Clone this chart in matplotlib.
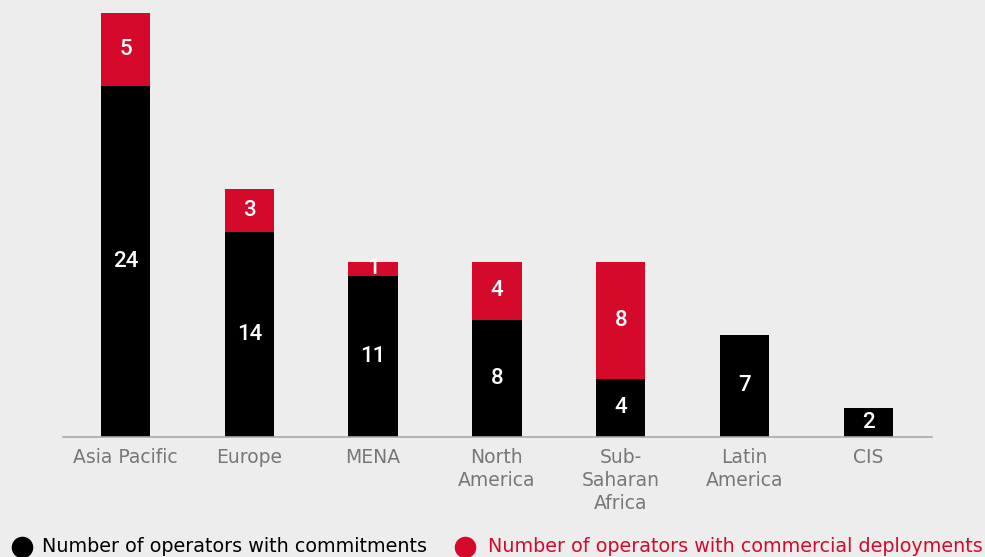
import matplotlib.pyplot as plt
from matplotlib.lines import Line2D
import numpy as np

regions = ["Asia Pacific", "Europe", "MENA", "North\nAmerica", "Sub-\nSaharan\nAfrica", "Latin\nAmerica", "CIS"]
commitments = [24, 14, 11, 8, 4, 7, 2]
deployments = [5, 3, 1, 4, 8, 0, 0]

bg = "#ededed"
red = "#d50a2b"

fig = plt.figure(figsize=(9.85, 5.57), dpi=100, facecolor=bg)
ax = fig.add_axes([0.064, 0.2154, 0.882, 0.7846], facecolor=bg)

x = np.arange(len(regions))
ax.bar(x, commitments, width=0.4, color="black")
ax.bar(x, deployments, width=0.4, bottom=commitments, color=red)

for i in x:
    c = commitments[i]
    d = deployments[i]
    ax.text(i, c / 2, str(c), ha="center", va="center", color="white",
            fontsize=16, family="Roboto", fontweight="medium")
    if d:
        ax.text(i, c + d / 2, str(d), ha="center", va="center", color="white",
                fontsize=16, family="Roboto", fontweight="medium")

ax.set_xlim(-0.505, 6.513)
ax.set_ylim(0, 29.9)
ax.set_xticks(x)
ax.set_xticklabels(regions, color="#777777", fontsize=13.5, linespacing=1.25, va="top")
ax.tick_params(axis="x", length=0, pad=8)
ax.set_yticks([])
for s in ["top", "right", "left"]:
    ax.spines[s].set_visible(False)
ax.spines["bottom"].set_color("#aaaaaa")
ax.spines["bottom"].set_linewidth(1.2)

# legend along the bottom edge
ly = 10 / 557
fig.add_artist(Line2D([22 / 985], [ly], marker="o", markersize=14.5, color="black",
                      transform=fig.transFigure, linestyle="none"))
fig.text(42 / 985, ly, "Number of operators with commitments", color="black",
         fontsize=13.8, va="center", ha="left")
fig.add_artist(Line2D([465 / 985], [ly], marker="o", markersize=14.5, color=red,
                      transform=fig.transFigure, linestyle="none"))
fig.text(488 / 985, ly, "Number of operators with commercial deployments", color=red,
         fontsize=13.8, va="center", ha="left")

fig.savefig("out.png", dpi=100, facecolor=bg)
